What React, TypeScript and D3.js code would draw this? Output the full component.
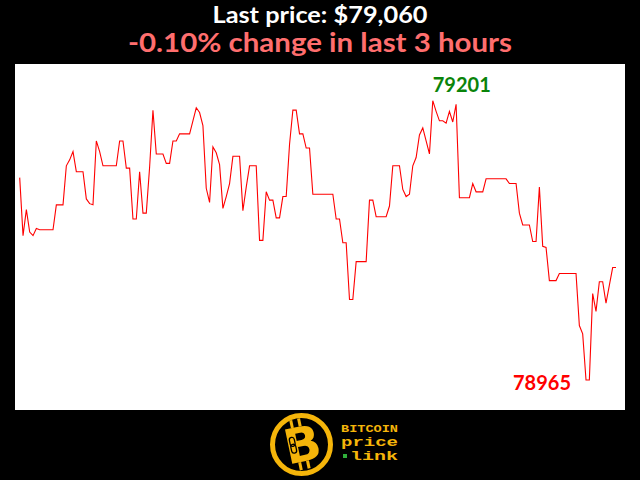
import * as d3 from "d3";
import { useEffect } from "react";

// one price per minute, last 3 hours
const prices: number[] = [
    79136, 79087, 79109, 79090, 79087, 79093, 79092, 79092, 79092, 79092,
    79092, 79113, 79113, 79113, 79146, 79151, 79158, 79141, 79141, 79141,
    79118, 79114, 79113, 79167, 79158, 79146, 79146, 79146, 79146, 79146,
    79167, 79167, 79144, 79144, 79101, 79101, 79141, 79106, 79106, 79145,
    79193, 79156, 79156, 79156, 79148, 79148, 79167, 79167, 79173, 79173,
    79173, 79173, 79184, 79195, 79191, 79180, 79127, 79115, 79162, 79157,
    79147, 79110, 79120, 79131, 79154, 79154, 79154, 79108, 79128, 79146,
    79146, 79146, 79083, 79083, 79124, 79117, 79117, 79102, 79102, 79120,
    79120, 79164, 79193, 79193, 79173, 79173, 79161, 79161, 79122, 79122,
    79122, 79122, 79122, 79122, 79122, 79101, 79101, 79081, 79081, 79033,
    79033, 79065, 79065, 79065, 79065, 79117, 79117, 79103, 79103, 79103,
    79103, 79112, 79146, 79146, 79146, 79126, 79120, 79122, 79146, 79153,
    79172, 79178, 79167, 79156, 79201, 79192, 79184, 79184, 79182, 79192,
    79183, 79198, 79119, 79119, 79119, 79119, 79131, 79124, 79124, 79124,
    79135, 79135, 79135, 79135, 79135, 79135, 79135, 79131, 79131, 79131,
    79106, 79096, 79096, 79096, 79082, 79082, 79128, 79078, 79077, 79049,
    79049, 79049, 79055, 79055, 79055, 79055, 79055, 79055, 79011, 79004,
    78965, 78965, 79038, 79023, 79048, 79048, 79030, 79045, 79060, 79060,
];

const titleText = "Last price: $79,060";
const changeText = "-0.10% change in last 3 hours";
const logoLines = ["BITCOIN", "price", "link"];

const gold = "#f5b50a";

export default function App() {
    useEffect(() => {
        document.body.style.margin = "0";
        document.body.style.background = "#000";
    }, []);

    const xScale = d3.scaleLinear().domain([0, prices.length - 1]).range([19.7, 616]);
    const yScale = d3.scaleLinear().domain([d3.min(prices)!, d3.max(prices)!]).range([380, 100.7]);

    const line = d3.line<number>()
        .x((d, i) => xScale(i))
        .y(d => yScale(d));

    const maxIdx = d3.maxIndex(prices);
    const minIdx = d3.minIndex(prices);

    return (
        <svg width={640} height={480} style={{ display: "block", position: "absolute", left: 0, top: 0 }}>
            <rect x={0} y={0} width={640} height={480} fill="#000" />

            {/* header */}
            <text x={320} y={22.5} textAnchor="middle" fill="#fff" fontFamily="Lato, sans-serif"
                fontWeight={700} fontSize={23} textLength={215} lengthAdjust="spacingAndGlyphs">
                {titleText}
            </text>
            <text x={320} y={52} textAnchor="middle" fill="#ff6e6e" fontFamily="Lato, sans-serif"
                fontWeight={700} fontSize={26} textLength={384} lengthAdjust="spacingAndGlyphs">
                {changeText}
            </text>

            {/* plot area */}
            <rect x={15} y={64} width={610} height={346} fill="#fff" />
            <path d={line(prices) || ""} fill="none" stroke="#ff0000" strokeWidth={1.1} />

            <text x={xScale(maxIdx)} y={yScale(prices[maxIdx]) - 9} fill="#0a840a"
                fontFamily="Lato, sans-serif" fontWeight={700} fontSize={20}>
                {prices[maxIdx]}
            </text>
            <text x={xScale(minIdx) - 15} y={yScale(prices[minIdx]) + 10} textAnchor="end" fill="#ff0000"
                fontFamily="Lato, sans-serif" fontWeight={700} fontSize={20}>
                {prices[minIdx]}
            </text>

            {/* logo */}
            <g transform="translate(301.5,444.5)">
                <circle r={29} fill="none" stroke={gold} strokeWidth={5} />
                <g transform="rotate(-12)">
                    <rect x={-7} y={-26} width={3} height={8} fill={gold} />
                    <rect x={1} y={-26} width={3} height={8} fill={gold} />
                    <rect x={-7} y={17} width={3} height={8} fill={gold} />
                    <rect x={1} y={17} width={3} height={8} fill={gold} />
                    <text x={1} y={17} textAnchor="middle" fill={gold} fontFamily="DejaVu Sans, sans-serif"
                        fontWeight={700} fontSize={48}>B</text>
                    <rect x={-11} y={-9} width={5} height={9} rx={2.5} fill="none" stroke="#000" strokeWidth={1.3} />
                    <rect x={-11} y={-2} width={5} height={9} rx={2.5} fill="none" stroke="#000" strokeWidth={1.3} />
                </g>
            </g>
            <text x={341} y={432} fill={gold} fontFamily="Liberation Mono, monospace" fontWeight={700}
                fontSize={11} textLength={57} lengthAdjust="spacingAndGlyphs">{logoLines[0]}</text>
            <text x={341} y={446} fill={gold} fontFamily="Liberation Mono, monospace" fontWeight={700}
                fontSize={12} textLength={57} lengthAdjust="spacingAndGlyphs">{logoLines[1]}</text>
            <rect x={343} y={454} width={4} height={4} fill="#2fae3a" />
            <text x={350} y={460} fill={gold} fontFamily="Liberation Mono, monospace" fontWeight={700}
                fontSize={12} textLength={48} lengthAdjust="spacingAndGlyphs">{logoLines[2]}</text>
        </svg>
    );
}
